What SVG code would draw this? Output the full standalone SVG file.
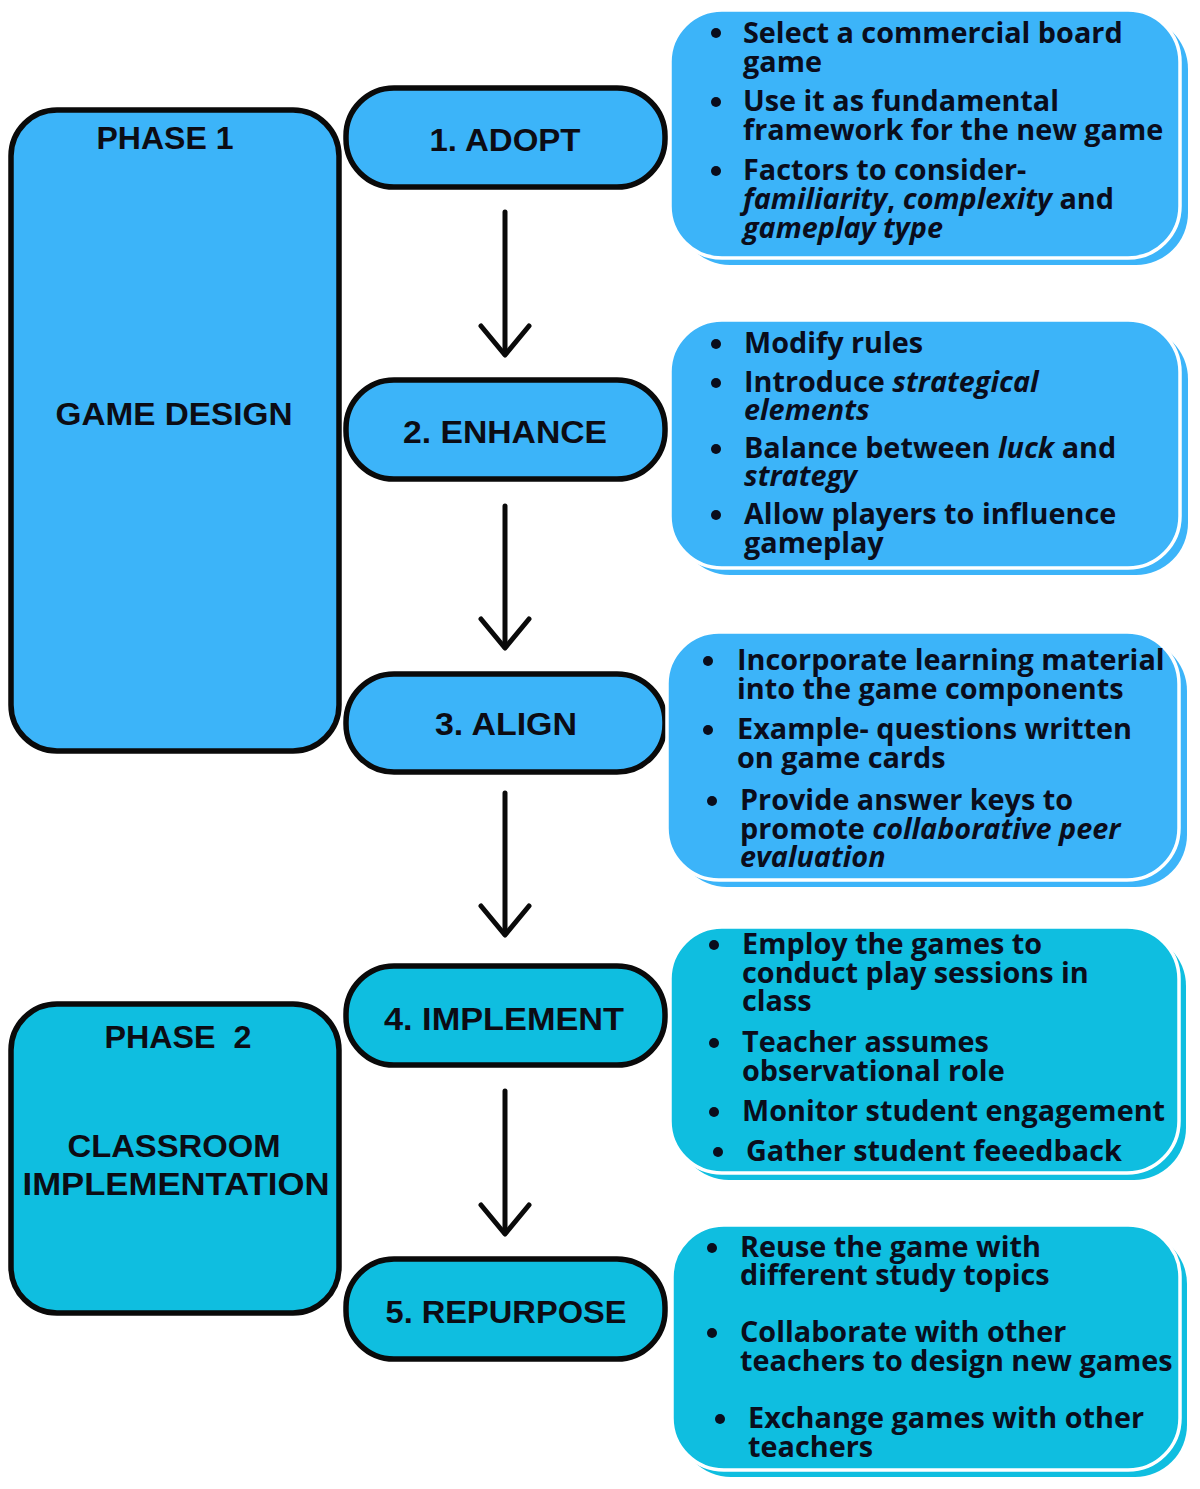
<svg xmlns="http://www.w3.org/2000/svg" width="1200" height="1489" viewBox="0 0 1200 1489">
<style>
.bg{fill:#ffffff}
.blue{fill:#3cb4f9}
.teal{fill:#0fbee0}
.node{stroke:#0a0a0a;stroke-width:5.5}
.card{stroke:#ffffff;stroke-width:3.5}
.lbl{font-family:"Liberation Sans",Arial,sans-serif;font-weight:700;font-size:32px;fill:#0c0c14;text-anchor:middle}
.d{font-family:"Open Sans","Liberation Sans",sans-serif;font-weight:700;font-size:28.8px;fill:#0a0d1c}
.i{font-style:italic}
.dot{fill:#0a0d1c}
.conn line,.conn polyline{stroke:#0a0a0a;stroke-width:5;fill:none;stroke-linecap:round;stroke-linejoin:round}
</style>
<rect class="bg" x="0" y="0" width="1200" height="1489"/>

<g id="phase1">
<rect class="blue node" x="11" y="110" width="328" height="641" rx="46"/>
<text class="lbl" x="165" y="149" textLength="137" lengthAdjust="spacingAndGlyphs">PHASE 1</text>
<text class="lbl" x="174" y="425" textLength="237" lengthAdjust="spacingAndGlyphs">GAME DESIGN</text>
</g>

<g id="phase2">
<rect class="teal node" x="11" y="1004" width="328" height="309" rx="46"/>
<text class="lbl" x="178" y="1048" textLength="147" lengthAdjust="spacingAndGlyphs" xml:space="preserve">PHASE  2</text>
<text class="lbl" x="174" y="1157" textLength="213" lengthAdjust="spacingAndGlyphs">CLASSROOM</text>
<text class="lbl" x="176" y="1195" textLength="307" lengthAdjust="spacingAndGlyphs">IMPLEMENTATION</text>
</g>

<g id="adopt">
<rect class="blue node" x="346" y="88" width="319" height="99" rx="48"/>
<text class="lbl" x="505" y="151" textLength="151" lengthAdjust="spacingAndGlyphs">1. ADOPT</text>
</g>
<g id="enhance">
<rect class="blue node" x="346" y="380" width="319" height="99" rx="48"/>
<text class="lbl" x="505" y="443" textLength="204" lengthAdjust="spacingAndGlyphs">2. ENHANCE</text>
</g>
<g id="align">
<rect class="blue node" x="346" y="674" width="319" height="98" rx="48"/>
<text class="lbl" x="506" y="735" textLength="142" lengthAdjust="spacingAndGlyphs">3. ALIGN</text>
</g>
<g id="implement">
<rect class="teal node" x="346" y="966" width="319" height="99" rx="48"/>
<text class="lbl" x="504" y="1030" textLength="240" lengthAdjust="spacingAndGlyphs">4. IMPLEMENT</text>
</g>
<g id="repurpose">
<rect class="teal node" x="346" y="1259" width="319" height="100" rx="48"/>
<text class="lbl" x="506" y="1323" textLength="241" lengthAdjust="spacingAndGlyphs">5. REPURPOSE</text>
</g>

<g id="connectors" class="conn">
<line x1="505" y1="212" x2="505" y2="354"/>
<polyline points="481,326 505,355 529,326"/>
<line x1="505" y1="506" x2="505" y2="647"/>
<polyline points="481,619 505,648 529,619"/>
<line x1="505" y1="793" x2="505" y2="934"/>
<polyline points="481,906 505,935 529,906"/>
<line x1="505" y1="1091" x2="505" y2="1233"/>
<polyline points="481,1205 505,1234 529,1205"/>
</g>

<g id="adopt-notes">
<rect class="blue" x="678" y="17" width="510" height="248" rx="52"/>
<rect class="blue card" x="670" y="10" width="510" height="248" rx="52"/>
<circle class="dot" cx="716" cy="33" r="5"/>
<circle class="dot" cx="716" cy="102" r="5"/>
<circle class="dot" cx="716" cy="171" r="5"/>
<text class="d" x="743" y="43">Select a commercial board<tspan x="743" dy="29">game</tspan></text>
<text class="d" x="743" y="111">Use it as fundamental<tspan x="743" dy="29">framework for the new game</tspan></text>
<text class="d" x="743" y="180">Factors to consider-<tspan x="743" dy="29"><tspan class="i">familiarity</tspan>, <tspan class="i">complexity</tspan> and</tspan><tspan x="743" dy="29" class="i">gameplay type</tspan></text>
</g>

<g id="enhance-notes">
<rect class="blue" x="678" y="327" width="510" height="248" rx="52"/>
<rect class="blue card" x="670" y="320" width="510" height="248" rx="52"/>
<circle class="dot" cx="716" cy="344" r="5"/>
<circle class="dot" cx="716" cy="383" r="5"/>
<circle class="dot" cx="716" cy="449" r="5"/>
<circle class="dot" cx="716" cy="515" r="5"/>
<text class="d" x="744" y="353">Modify rules</text>
<text class="d" x="744" y="392">Introduce <tspan class="i">strategical</tspan><tspan x="744" dy="28" class="i">elements</tspan></text>
<text class="d" x="744" y="458">Balance between <tspan class="i">luck</tspan> and<tspan x="744" dy="28" class="i">strategy</tspan></text>
<text class="d" x="744" y="524">Allow players to influence<tspan x="744" dy="29">gameplay</tspan></text>
</g>

<g id="align-notes">
<rect class="blue" x="675" y="639" width="512" height="248" rx="52"/>
<rect class="blue card" x="667" y="632" width="512" height="248" rx="52"/>
<circle class="dot" cx="708" cy="661" r="5"/>
<circle class="dot" cx="708" cy="730" r="5"/>
<circle class="dot" cx="712" cy="801" r="5"/>
<text class="d" x="737" y="670">Incorporate learning material<tspan x="737" dy="29">into the game components</tspan></text>
<text class="d" x="737" y="739">Example- questions written<tspan x="737" dy="29">on game cards</tspan></text>
<text class="d" x="740" y="810">Provide answer keys to<tspan x="740" dy="29">promote <tspan class="i">collaborative peer</tspan></tspan><tspan x="740" dy="28" class="i">evaluation</tspan></text>
</g>

<g id="implement-notes">
<rect class="teal" x="677" y="934" width="509" height="246" rx="52"/>
<rect class="teal card" x="670" y="927" width="509" height="246" rx="52"/>
<circle class="dot" cx="714" cy="945" r="5"/>
<circle class="dot" cx="714" cy="1043" r="5"/>
<circle class="dot" cx="714" cy="1112" r="5"/>
<circle class="dot" cx="718" cy="1152" r="5"/>
<text class="d" x="742" y="954">Employ the games to<tspan x="742" dy="29">conduct play sessions in</tspan><tspan x="742" dy="28">class</tspan></text>
<text class="d" x="742" y="1052">Teacher assumes<tspan x="742" dy="29">observational role</tspan></text>
<text class="d" x="742" y="1121">Monitor student engagement</text>
<text class="d" x="746" y="1161">Gather student feeedback</text>
</g>

<g id="repurpose-notes">
<rect class="teal" x="679" y="1232" width="508" height="245" rx="52"/>
<rect class="teal card" x="672" y="1225" width="508" height="245" rx="52"/>
<circle class="dot" cx="712" cy="1248" r="5"/>
<circle class="dot" cx="712" cy="1333" r="5"/>
<circle class="dot" cx="720" cy="1419" r="5"/>
<text class="d" x="740" y="1257">Reuse the game with<tspan x="740" dy="28">different study topics</tspan></text>
<text class="d" x="740" y="1342">Collaborate with other<tspan x="740" dy="29">teachers to design new games</tspan></text>
<text class="d" x="748" y="1428">Exchange games with other<tspan x="748" dy="29">teachers</tspan></text>
</g>
</svg>
